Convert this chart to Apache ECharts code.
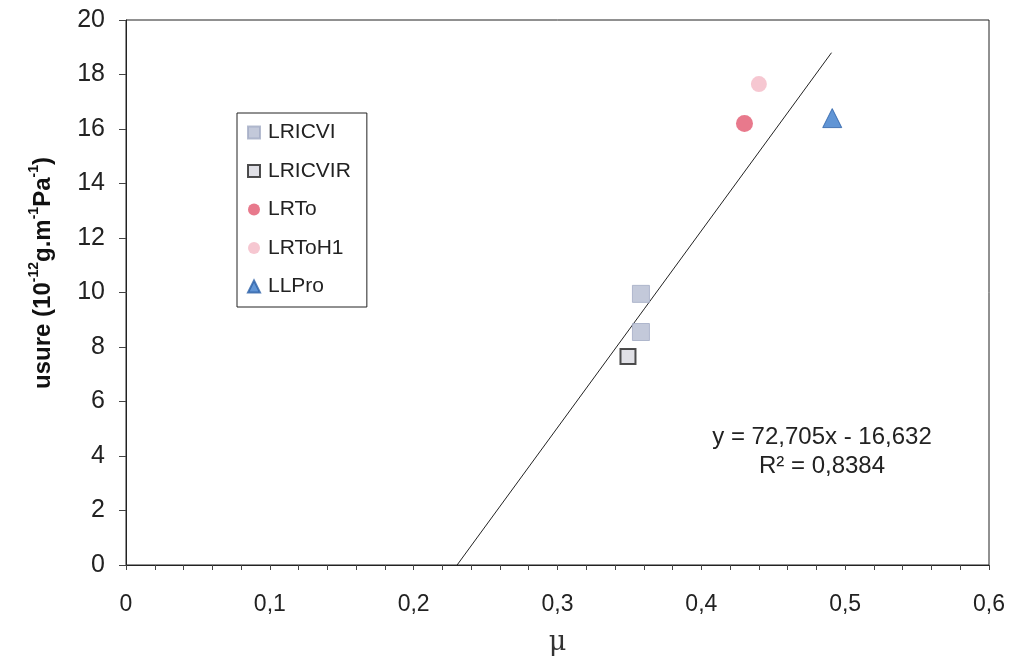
<!DOCTYPE html>
<html><head><meta charset="utf-8">
<script src="https://cdn.jsdelivr.net/npm/echarts@6/dist/echarts.min.js"></script>
<style>html,body{margin:0;padding:0;background:#fff}#c{width:1013px;height:661px}</style>
</head><body><div id="c"></div>
<script>
const seriesNames = ['LRICVI', 'LRICVIR', 'LRTo', 'LRToH1', 'LLPro'];
const lricviX = [0.358, 0.358];
const lricviY = [9.95, 8.55];
const lricvirX = [0.349];
const lricvirY = [7.65];
const lrtoX = [0.430];
const lrtoY = [16.2];
const lrtoh1X = [0.440];
const lrtoh1Y = [17.65];
const llproX = [0.491];
const llproY = [16.4];
const trendX = [0.2302, 0.4905];
const trendY = [0, 18.8];
const xTicks = ['0', '0,1', '0,2', '0,3', '0,4', '0,5', '0,6'];
const equationLines = ['y = 72,705x - 16,632', 'R² = 0,8384'];

const zip = (xs, ys) => xs.map((x, i) => [x, ys[i]]);
const font = 'Liberation Sans, Arial, sans-serif';

const chart = echarts.init(document.getElementById('c'));
chart.setOption({
  animation: false,
  backgroundColor: '#fff',
  grid: { left: 126, right: 24, top: 20, bottom: 96, show: true, borderColor: '#222', borderWidth: 1 },
  xAxis: {
    type: 'value', min: 0, max: 0.6, interval: 0.1,
    axisLine: { show: true, onZero: false, lineStyle: { color: '#222', width: 1 } },
    axisTick: { show: true, inside: false, length: 5, lineStyle: { color: '#444' } },
    minorTick: { show: true, splitNumber: 5, length: 5, lineStyle: { color: '#444' } },
    splitLine: { show: false },
    axisLabel: { margin: 28, fontSize: 23, color: '#222', fontFamily: font,
      formatter: v => xTicks[Math.round(v * 10)] },
    name: 'μ', nameLocation: 'middle', nameGap: 64,
    nameTextStyle: { fontSize: 27, color: '#333', fontFamily: 'DejaVu Serif, Liberation Serif, serif' }
  },
  yAxis: {
    type: 'value', min: 0, max: 20, interval: 2,
    axisLine: { show: true, onZero: false, lineStyle: { color: '#222', width: 1 } },
    axisTick: { show: true, inside: false, length: 7, lineStyle: { color: '#444' } },
    splitLine: { show: false },
    axisLabel: { margin: 21, fontSize: 25, color: '#222', fontFamily: font }
  },
  legend: {
    orient: 'vertical', left: 237, top: 113,
    data: seriesNames,
    backgroundColor: '#fff',
    borderColor: '#222', borderWidth: 1,
    padding: [9, 16, 10, 10],
    itemWidth: 12, itemHeight: 12, itemGap: 17.5,
    textStyle: { fontSize: 21, color: '#222', fontFamily: font, padding: [0, 0, 0, 3] }
  },
  series: [
    { name: 'trend', type: 'line', data: zip(trendX, trendY), symbol: 'none',
      lineStyle: { color: '#222', width: 1 }, silent: true, z: 1 },
    { name: seriesNames[0], type: 'scatter', data: zip(lricviX, lricviY), symbol: 'rect', symbolSize: 17,
      itemStyle: { color: '#b4bbd1', borderColor: '#a3abc4', borderWidth: 1 }, z: 3 },
    { name: seriesNames[1], type: 'scatter', data: zip(lricvirX, lricvirY), symbol: 'rect', symbolSize: 15,
      itemStyle: { color: '#d8d8e0', borderColor: '#222', borderWidth: 2 }, z: 3 },
    { name: seriesNames[2], type: 'scatter', data: zip(lrtoX, lrtoY), symbol: 'circle', symbolSize: 17,
      itemStyle: { color: '#e2576f' }, z: 3 },
    { name: seriesNames[3], type: 'scatter', data: zip(lrtoh1X, lrtoh1Y), symbol: 'circle', symbolSize: 16,
      itemStyle: { color: '#f4b9c6' }, z: 3 },
    { name: seriesNames[4], type: 'scatter', data: zip(llproX, llproY), symbol: 'triangle', symbolSize: 19,
      itemStyle: { color: '#3a7acb', borderColor: '#2b5fa6', borderWidth: 1 }, z: 3 }
  ],
  graphic: [
    { type: 'text', x: 41, y: 273, rotation: Math.PI / 2,
      style: {
        text: '{b|usure (10}{s|-12}{b|g.m}{s|-1}{b|Pa}{s|-1}{b|)}',
        align: 'center', verticalAlign: 'middle',
        rich: {
          b: { fontSize: 24, fontWeight: 'bold', fill: '#111', fontFamily: font, lineHeight: 28, verticalAlign: 'bottom' },
          s: { fontSize: 14, fontWeight: 'bold', fill: '#111', fontFamily: font, lineHeight: 28, verticalAlign: 'top', padding: [0, 0, 10, 0] }
        }
      } },
    { type: 'text', x: 822, y: 437, style: { text: equationLines[0], fontSize: 24, fill: '#222', fontFamily: font, align: 'center', verticalAlign: 'middle' } },
    { type: 'text', x: 822, y: 466, style: { text: equationLines[1], fontSize: 24, fill: '#222', fontFamily: font, align: 'center', verticalAlign: 'middle' } }
  ]
});
</script></body></html>
